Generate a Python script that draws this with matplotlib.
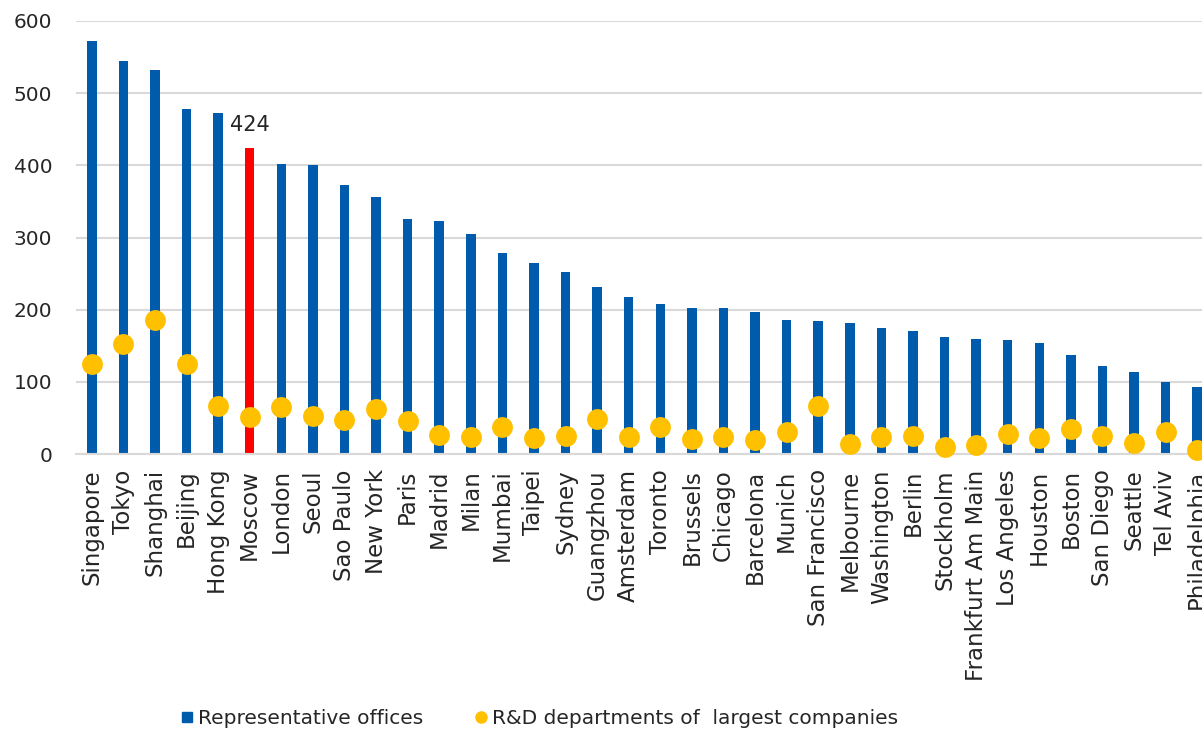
import matplotlib
matplotlib.use("Agg")
import matplotlib.pyplot as plt
from matplotlib.lines import Line2D
import numpy as np

cities = ["Singapore", "Tokyo", "Shanghai", "Beijing", "Hong Kong", "Moscow", "London",
          "Seoul", "Sao Paulo", "New York", "Paris", "Madrid", "Milan", "Mumbai", "Taipei",
          "Sydney", "Guangzhou", "Amsterdam", "Toronto", "Brussels", "Chicago", "Barcelona",
          "Munich", "San Francisco", "Melbourne", "Washington", "Berlin", "Stockholm",
          "Frankfurt Am Main", "Los Angeles", "Houston", "Boston", "San Diego", "Seattle",
          "Tel Aviv", "Philadelphia"]
offices = [572, 545, 532, 478, 472, 424, 402, 401, 373, 356, 325, 323, 305, 278, 264,
           252, 232, 217, 208, 203, 202, 197, 186, 184, 182, 174, 171, 162, 160, 158,
           154, 137, 122, 113, 100, 93]
rnd = [125, 152, 186, 125, 66, 51, 65, 52, 47, 62, 46, 26, 24, 38, 22, 25, 48, 23, 38,
       21, 24, 19, 30, 66, 14, 23, 25, 10, 13, 28, 22, 35, 25, 15, 31, 5]
highlight = "Moscow"

BLUE = "#005BAC"
RED = "#FF0000"
YELLOW = "#FFC000"
GRID = "#D9D9D9"
TXT = "#262626"
FONT = "DejaVu Sans"

W, H = 1202, 734
fig = plt.figure(figsize=(W / 100, H / 100), dpi=100)
left, right_px, top_px, bottom_px = 76, 1213, 21, 454
ax = fig.add_axes([left / W, 1 - bottom_px / H, (right_px - left) / W, (bottom_px - top_px) / H])

x = np.arange(len(cities))
colors = [RED if c == highlight else BLUE for c in cities]
ax.bar(x, offices, width=0.3, color=colors, zorder=2)
ax.plot(x, rnd, linestyle="none", marker="o", markersize=15, color=YELLOW,
        markeredgewidth=0, zorder=3, clip_on=False)

hi = cities.index(highlight)
ax.annotate(str(offices[hi]), (x[hi], offices[hi]), xytext=(0, 12), textcoords="offset points",
            ha="center", va="baseline", fontsize=15, color=TXT, family=FONT)

ax.set_xlim(-0.5, len(cities) - 0.5)
ax.set_ylim(0, 600)
ax.set_yticks(range(0, 601, 100))
ax.yaxis.grid(True, color=GRID, linewidth=1.5, zorder=0)
ax.set_axisbelow(True)
for s in ["top", "right", "left"]:
    ax.spines[s].set_visible(False)
ax.spines["bottom"].set_color(GRID)
ax.spines["bottom"].set_linewidth(1.5)
ax.set_xticks(x)
ax.set_xticklabels(cities, rotation=90, fontsize=16.5, family=FONT, color=TXT)
ax.tick_params(axis="x", length=0, pad=11, colors=TXT)
ax.tick_params(axis="y", length=0, labelsize=14.5, pad=17, colors=TXT)
for lab in ax.get_yticklabels():
    lab.set_family(FONT)

handles = [Line2D([], [], linestyle="none", marker="s", markersize=7.5, color=BLUE),
           Line2D([], [], linestyle="none", marker="o", markersize=8, color=YELLOW)]
fig.legend(handles, ["Representative offices", "R&D departments of  largest companies"],
           loc="center left", bbox_to_anchor=(162 / W, 1 - 719 / H), ncol=2, frameon=False,
           prop={"family": FONT, "size": 14.5}, handletextpad=0.2, columnspacing=2.5,
           handlelength=0.7, labelcolor=TXT)

fig.savefig("out.png", dpi=100)
